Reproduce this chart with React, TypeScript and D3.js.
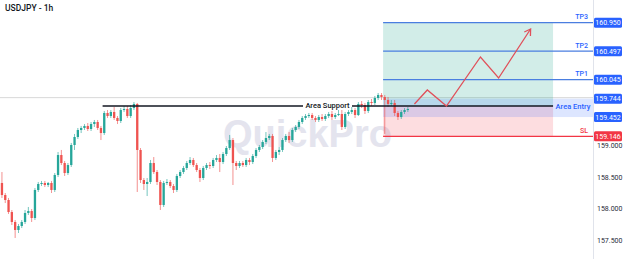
import React, { useEffect } from 'react';
import * as d3 from 'd3';

const W = 624;
const H = 259;

// USDJPY 1h candles
const opens = [
  158.405, 158.214, 158.135, 157.944, 157.786, 157.659, 157.722, 157.786, 157.929, 157.960,
  157.849, 158.294, 158.389, 158.405, 158.373, 158.405, 158.294, 158.532, 158.849, 158.722,
  158.563, 158.690, 159.008, 159.135, 159.246, 159.278, 159.310, 159.262, 159.341, 159.373,
  159.278, 159.198, 159.516, 159.468, 159.532, 159.437, 159.389, 159.563, 159.579, 159.468,
  159.595, 159.659, 158.929, 158.452, 158.389, 158.421, 158.722, 158.579, 158.421, 158.056,
  158.405, 158.421, 158.357, 158.294, 158.516, 158.579, 158.643, 158.722, 158.770, 158.690,
  158.611, 158.484, 158.643, 158.690, 158.675, 158.770, 158.802, 158.738, 158.865, 158.960,
  159.087, 158.722, 158.675, 158.722, 158.690, 158.770, 158.738, 158.833, 158.929, 158.976,
  159.056, 159.119, 159.151, 158.802, 158.897, 158.929, 159.087, 159.151, 159.087, 159.246,
  159.294, 159.373, 159.437, 159.468, 159.484, 159.437, 159.405, 159.452, 159.421, 159.468,
  159.500, 159.452, 159.484, 159.500, 159.294, 159.500, 159.532, 159.563, 159.484, 159.659,
  159.643, 159.548, 159.690, 159.675, 159.754, 159.802, 159.770, 159.722, 159.659, 159.675,
  159.516, 159.452, 159.532, 159.563,
];
const closes = [
  158.214, 158.135, 157.944, 157.786, 157.659, 157.722, 157.786, 157.929, 157.960, 157.849,
  158.294, 158.389, 158.405, 158.373, 158.405, 158.294, 158.532, 158.849, 158.722, 158.563,
  158.690, 159.008, 159.135, 159.246, 159.278, 159.310, 159.262, 159.341, 159.373, 159.278,
  159.198, 159.516, 159.468, 159.532, 159.437, 159.389, 159.563, 159.579, 159.468, 159.595,
  159.659, 158.929, 158.452, 158.389, 158.421, 158.722, 158.579, 158.421, 158.056, 158.405,
  158.421, 158.357, 158.294, 158.516, 158.579, 158.643, 158.722, 158.770, 158.690, 158.611,
  158.484, 158.643, 158.690, 158.675, 158.770, 158.802, 158.738, 158.865, 158.960, 159.087,
  158.722, 158.675, 158.722, 158.690, 158.770, 158.738, 158.833, 158.929, 158.976, 159.056,
  159.119, 159.151, 158.802, 158.897, 158.929, 159.087, 159.151, 159.087, 159.246, 159.294,
  159.373, 159.437, 159.468, 159.484, 159.437, 159.405, 159.452, 159.421, 159.468, 159.500,
  159.452, 159.484, 159.500, 159.294, 159.500, 159.532, 159.563, 159.484, 159.659, 159.643,
  159.548, 159.690, 159.675, 159.754, 159.802, 159.770, 159.722, 159.659, 159.675, 159.516,
  159.452, 159.532, 159.563, 159.579,
];
const highs = [
  158.579, 158.246, 158.167, 157.976, 157.817, 157.754, 157.817, 157.976, 158.024, 157.992,
  158.325, 158.421, 158.437, 158.437, 158.421, 158.437, 158.563, 158.897, 158.929, 158.754,
  158.722, 159.040, 159.183, 159.278, 159.310, 159.341, 159.357, 159.373, 159.405, 159.405,
  159.310, 159.548, 159.563, 159.563, 159.611, 159.468, 159.595, 159.627, 159.627, 159.643,
  159.690, 159.675, 158.960, 158.484, 158.484, 158.770, 158.817, 158.611, 158.452, 158.437,
  158.468, 158.452, 158.389, 158.548, 158.611, 158.675, 158.754, 158.817, 158.802, 158.722,
  158.643, 158.675, 158.722, 158.738, 158.802, 158.849, 158.865, 158.897, 158.992, 159.167,
  159.119, 158.754, 158.754, 158.754, 158.802, 158.802, 158.865, 158.960, 159.008, 159.087,
  159.214, 159.183, 159.183, 158.929, 158.976, 159.119, 159.183, 159.214, 159.278, 159.325,
  159.405, 159.468, 159.500, 159.516, 159.516, 159.468, 159.484, 159.500, 159.500, 159.532,
  159.548, 159.516, 159.563, 159.563, 159.532, 159.563, 159.611, 159.595, 159.690, 159.706,
  159.675, 159.722, 159.738, 159.786, 159.833, 159.833, 159.802, 159.770, 159.722, 159.722,
  159.548, 159.563, 159.595, 159.611,
];
const lows = [
  158.167, 158.087, 157.913, 157.738, 157.532, 157.611, 157.690, 157.754, 157.897, 157.786,
  157.817, 158.262, 158.357, 158.341, 158.341, 158.246, 158.262, 158.500, 158.690, 158.516,
  158.532, 158.659, 158.929, 159.103, 159.198, 159.246, 159.230, 159.230, 159.294, 159.246,
  159.087, 159.167, 159.437, 159.437, 159.405, 159.341, 159.357, 159.532, 159.437, 159.437,
  159.563, 158.262, 158.405, 158.294, 158.198, 158.389, 158.548, 158.373, 157.976, 158.024,
  158.373, 158.325, 158.246, 158.262, 158.484, 158.548, 158.611, 158.690, 158.659, 158.579,
  158.421, 158.452, 158.611, 158.627, 158.643, 158.738, 158.579, 158.706, 158.833, 158.929,
  158.373, 158.611, 158.643, 158.659, 158.659, 158.690, 158.706, 158.802, 158.897, 158.944,
  159.024, 159.087, 158.738, 158.770, 158.849, 158.897, 159.056, 159.040, 159.056, 159.214,
  159.262, 159.341, 159.405, 159.437, 159.405, 159.373, 159.373, 159.389, 159.389, 159.437,
  159.405, 159.421, 159.468, 159.246, 159.262, 159.468, 159.500, 159.437, 159.468, 159.595,
  159.500, 159.516, 159.627, 159.643, 159.722, 159.722, 159.183, 159.611, 159.627, 159.468,
  159.405, 159.421, 159.500, 159.532,
];

// visible axis ticks (160.000 and 160.500 are hidden behind the TP labels)
const yTicks = [157.5, 158.0, 158.5, 159.0];

const tpNames = ['TP1', 'TP2', 'TP3'];
const tpPrices = [160.045, 160.497, 160.950];
const entryTop = 159.744;
const entryBottom = 159.452;
const entryPrice = 159.627;
const slPrice = 159.146;
const lastPrice = 159.744;

// projected path: bar offsets (in bar units) and prices
const arrowBars = [125.5, 129.4, 135.2, 145.5, 151.0, 160.7];
const arrowPrices = [159.659, 159.881, 159.627, 160.405, 160.071, 160.849];

const zoneStartBar = 116;
const zoneEndBar = 167.5;
const supportStartBar = 31;

const UP = '#26a69a';
const DOWN = '#ef5350';
const BLUE = '#2962ff';
const TPLINE = '#4a7ee0';
const RED = '#f23645';
const FONT = 'Roboto, "Liberation Sans", Arial, sans-serif';

export default function App() {
  useEffect(() => {
    document.body.style.margin = '0';
  }, []);

  const n = closes.length;
  const plotRight = 593;
  const x = d3.scaleLinear().domain([0, n]).range([0.3, 409.5]);
  const step = x(1) - x(0);
  const bodyW = step * 0.7;
  const y = d3.scaleLinear().domain([159, 161]).range([145.5, 19.5]);

  const zx0 = x(zoneStartBar);
  const zx1 = x(zoneEndBar);

  const arrowPts: [number, number][] = arrowBars.map((b, i) => [x(b), y(arrowPrices[i])]);
  const line = d3.line();
  const tip = arrowPts[arrowPts.length - 1];
  const prev = arrowPts[arrowPts.length - 2];
  const ang = Math.atan2(tip[1] - prev[1], tip[0] - prev[0]);
  const headLen = 7;
  const head1: [number, number] = [tip[0] - headLen * Math.cos(ang - 0.55), tip[1] - headLen * Math.sin(ang - 0.55)];
  const head2: [number, number] = [tip[0] - headLen * Math.cos(ang + 0.55), tip[1] - headLen * Math.sin(ang + 0.55)];

  const priceLabel = (p: number, bg: string, key: string) => (
    <g key={key}>
      <rect x={594} y={y(p) - 5} width={28} height={10} rx={1.5} fill={bg} />
      <text x={608} y={y(p) + 2.6} fontSize={7} fill="#fff" textAnchor="middle" fontFamily={FONT}>
        {p.toFixed(3)}
      </text>
    </g>
  );

  const supY = y(entryPrice);
  const supX0 = x(supportStartBar);

  return (
    <svg width={W} height={H} style={{ position: 'absolute', left: 0, top: 0, background: '#fff' }} xmlns="http://www.w3.org/2000/svg">
      <rect x={0} y={0} width={W} height={H} fill="#fff" />

      {/* watermark */}
      <text x={223} y={147} fontSize={38} fontWeight={700} fill="#e4e4ee" fontFamily='"Liberation Sans", Arial, sans-serif'>
        QuickPro
      </text>

      {/* last price line */}
      <line x1={0} x2={plotRight} y1={y(lastPrice) - 1} y2={y(lastPrice) - 1} stroke="#d9d9d9" strokeWidth={1} />

      {/* position zones */}
      <rect x={zx0} y={y(tpPrices[2])} width={zx1 - zx0} height={y(entryPrice) - y(tpPrices[2])} fill="rgba(8,153,129,0.18)" />
      <rect x={zx0} y={y(entryPrice)} width={zx1 - zx0} height={y(slPrice) - y(entryPrice)} fill="rgba(242,54,69,0.17)" />
      <rect x={zx0} y={y(entryTop)} width={plotRight - zx0} height={y(entryBottom) - y(entryTop)} fill="rgba(41,98,255,0.16)" />

      {/* candles */}
      <g>
        {closes.map((c, i) => {
          const o = opens[i];
          const up = c >= o;
          const col = up ? UP : DOWN;
          const cx = x(i + 0.5);
          const top = y(Math.max(o, c));
          const bot = y(Math.min(o, c));
          return (
            <g key={i}>
              <line x1={cx} x2={cx} y1={y(highs[i])} y2={y(lows[i])} stroke={col} strokeWidth={0.8} opacity={0.8} />
              <rect x={cx - bodyW / 2} y={top} width={bodyW} height={Math.max(0.8, bot - top)} fill={col} />
            </g>
          );
        })}
      </g>

      {/* area support line */}
      <line x1={supX0} x2={303} y1={supY} y2={supY} stroke="#131722" strokeWidth={1.3} />
      <line x1={352} x2={zx1} y1={supY} y2={supY} stroke="#131722" strokeWidth={1.3} />
      <text x={327.5} y={supY + 2.4} fontSize={7.5} fill="#131722" textAnchor="middle" fontFamily={FONT} fontWeight={500}>
        Area Support
      </text>

      {/* TP lines */}
      {tpPrices.map((p, i) => (
        <g key={'tp' + i}>
          <line x1={zx0} x2={plotRight} y1={y(p)} y2={y(p)} stroke={TPLINE} strokeWidth={1.3} />
          <text x={588} y={y(p) - 3.5} fontSize={7} fill={BLUE} textAnchor="end" fontFamily={FONT} fontWeight={500}>
            {tpNames[i]}
          </text>
        </g>
      ))}

      {/* SL line */}
      <line x1={zx0} x2={plotRight} y1={y(slPrice)} y2={y(slPrice)} stroke={RED} strokeWidth={1.3} />
      <text x={588} y={y(slPrice) - 3.5} fontSize={7} fill={RED} textAnchor="end" fontFamily={FONT} fontWeight={500}>
        SL
      </text>

      {/* area entry label */}
      <text x={573} y={y(entryPrice) + 3} fontSize={7.5} fill={BLUE} textAnchor="middle" fontFamily={FONT} fontWeight={500}>
        Area Entry
      </text>

      {/* projection arrow */}
      <path d={line(arrowPts) || ''} fill="none" stroke="#e0505a" strokeWidth={1.3} strokeLinejoin="miter" />
      <path d={line([head1, tip, head2]) || ''} fill="none" stroke="#e0505a" strokeWidth={1.3} />

      {/* price axis */}
      <rect x={plotRight} y={0} width={W - plotRight} height={H} fill="#fff" />
      <line x1={plotRight + 0.5} x2={plotRight + 0.5} y1={0} y2={H} stroke="#e0e3eb" strokeWidth={1} />
      {yTicks.map((t) => (
        <text key={t} x={597} y={y(t) + 2.5} fontSize={7} fill="#2a2e39" fontFamily={FONT}>
          {t.toFixed(3)}
        </text>
      ))}
      {tpPrices.map((p, i) => priceLabel(p, BLUE, 'pl' + i))}
      {priceLabel(entryTop, BLUE, 'et')}
      {priceLabel(entryBottom, BLUE, 'eb')}
      {priceLabel(slPrice, RED, 'sl')}

      {/* title */}
      <text x={5} y={11} fontSize={8.5} fill="#131722" fontFamily={FONT} fontWeight={500}>
        USDJPY - 1h
      </text>
    </svg>
  );
}
